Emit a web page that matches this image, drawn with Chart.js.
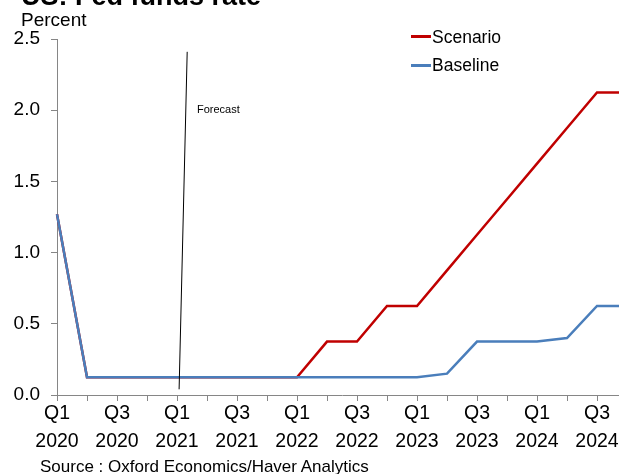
<!DOCTYPE html>
<html>
<head>
<meta charset="utf-8">
<script src="https://cdn.jsdelivr.net/npm/chart.js@4/dist/chart.umd.min.js"></script>
<style>
  html, body { margin: 0; padding: 0; width: 619px; height: 474px; overflow: hidden; background: #fff; }
  body { position: relative; font-family: "Liberation Sans", Arial, sans-serif; color: #000; }
  #wrap { position: absolute; left: 0; top: 0; width: 640px; height: 474px; }
  .t { position: absolute; white-space: nowrap; }
  .leg { position: absolute; height: 2.5px; width: 20px; }
</style>
</head>
<body>
<div id="wrap"><canvas id="c" width="640" height="474"></canvas></div>
<div class="t" id="title" style="left:21px; top:-17px; font-size:27px; line-height:27px; font-weight:bold;">US: Fed funds rate</div>
<div class="t" style="left:21px; top:10px; font-size:19px; line-height:19px;">Percent</div>
<div class="t" style="left:40px; top:457.6px; font-size:17px; line-height:17px;">Source : Oxford Economics/Haver Analytics</div>
<div class="t" style="left:197px; top:103.7px; font-size:11px; line-height:11px;">Forecast</div>
<div id="legend"></div>
<script>
// ---- data ----
const quarters = ["Q1","Q2","Q3","Q4","Q1","Q2","Q3","Q4","Q1","Q2","Q3","Q4","Q1","Q2","Q3","Q4","Q1","Q2","Q3","Q4"];
const years = ["2020","2020","2020","2020","2021","2021","2021","2021","2022","2022","2022","2022","2023","2023","2023","2023","2024","2024","2024","2024"];
const scenario = [1.27,0.125,0.125,0.125,0.125,0.125,0.125,0.125,0.125,0.375,0.375,0.625,0.625,0.875,1.125,1.375,1.625,1.875,2.125,2.125];
const baseline = [1.27,0.125,0.125,0.125,0.125,0.125,0.125,0.125,0.125,0.125,0.125,0.125,0.125,0.15,0.375,0.375,0.375,0.40,0.625,0.625];
const yTicks = [0, 0.5, 1.0, 1.5, 2.0, 2.5];
const seriesNames = ["Scenario", "Baseline"];
const seriesColors = ["#C00000", "#4A7EBB"];
// forecast marker (category index, value) endpoints
const forecastX = [4.07, 4.34];
const forecastY = [0.04, 2.41];

const labels = quarters.map((q, i) => [q, years[i]]);

// HTML legend
const legendEl = document.getElementById('legend');
const legTops = [28.7, 56.9];
const legLineY = [36.5, 65.5];
seriesNames.forEach((name, i) => {
  const ln = document.createElement('div');
  ln.className = 'leg';
  ln.style.left = '411px';
  ln.style.top = (legLineY[i] - 1.25) + 'px';
  ln.style.background = seriesColors[i];
  legendEl.appendChild(ln);
  const tx = document.createElement('div');
  tx.className = 't';
  tx.style.left = '432px';
  tx.style.top = legTops[i] + 'px';
  tx.style.fontSize = '17.5px';
  tx.style.lineHeight = '17.5px';
  tx.textContent = name;
  legendEl.appendChild(tx);
});

const forecastPlugin = {
  id: 'forecastLine',
  afterDatasetsDraw(chart) {
    const xs = chart.scales.x, ys = chart.scales.y, ctx = chart.ctx;
    ctx.save();
    ctx.strokeStyle = '#000';
    ctx.lineWidth = 1;
    ctx.beginPath();
    ctx.moveTo(xs.getPixelForValue(forecastX[0]), ys.getPixelForValue(forecastY[0]));
    ctx.lineTo(xs.getPixelForValue(forecastX[1]), ys.getPixelForValue(forecastY[1]));
    ctx.stroke();
    ctx.restore();
  }
};

const axisColor = '#868686';
const fontFam = '"Liberation Sans", Arial, sans-serif';

new Chart(document.getElementById('c'), {
  type: 'line',
  data: {
    labels: labels,
    datasets: [
      { label: seriesNames[0], data: scenario, borderColor: seriesColors[0], backgroundColor: seriesColors[0], borderWidth: 2.5, pointRadius: 0, tension: 0, order: 1, clip: false },
      { label: seriesNames[1], data: baseline, borderColor: seriesColors[1], backgroundColor: seriesColors[1], borderWidth: 2.5, pointRadius: 0, tension: 0, order: 0, clip: false }
    ]
  },
  options: {
    responsive: false,
    animation: false,
    devicePixelRatio: 1,
    layout: { padding: { left: 0, right: 13, top: 39, bottom: 0 } },
    plugins: { legend: { display: false }, tooltip: { enabled: false }, title: { display: false } },
    scales: {
      x: {
        offset: false,
        grid: { drawOnChartArea: false, drawTicks: true, tickLength: 6, color: axisColor },
        border: { color: axisColor, width: 1 },
        ticks: {
          autoSkip: false, maxRotation: 0, minRotation: 0, padding: -2,
          color: '#000',
          font: { family: fontFam, size: 19.5, lineHeight: 1.45 },
          callback: function(v, i) { return i % 2 === 0 ? labels[i] : ''; }
        },
        afterFit(scale) { scale.height = 474 - 395; }
      },
      y: {
        min: 0, max: 2.5,
        afterBuildTicks(scale) { scale.ticks = yTicks.map(v => ({ value: v })); },
        grid: { drawOnChartArea: false, drawTicks: true, tickLength: 6, color: axisColor },
        border: { color: axisColor, width: 1 },
        ticks: {
          padding: 11, color: '#000',
          font: { family: fontFam, size: 19 },
          callback: v => Number(v).toFixed(1)
        },
        afterFit(scale) { scale.width = 57; }
      }
    }
  },
  plugins: [forecastPlugin]
});
</script>
</body>
</html>
